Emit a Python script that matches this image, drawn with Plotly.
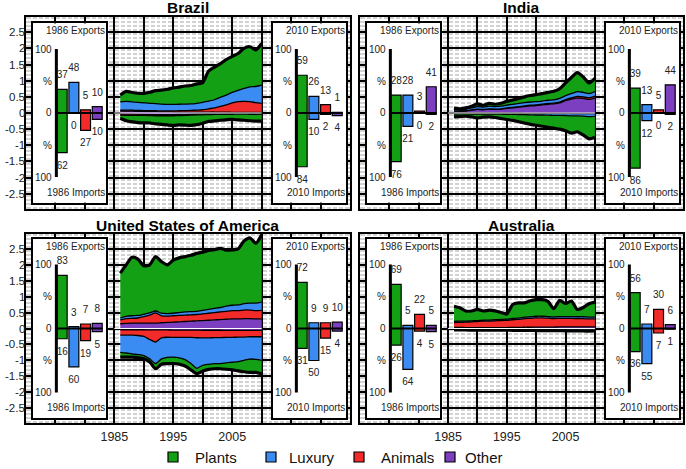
import plotly.graph_objects as go

years = list(range(1986, 2011))
categories = ["Plants", "Luxury", "Animals", "Other"]
cat_colors = ["#14a014", "#3b8cf2", "#f22a2a", "#7b3fbf"]
panel_titles = ["Brazil", "India", "United States of America", "Australia"]
bar_positions = [1, 2, 3, 4]

# ---- stream data (exports above zero, imports below zero) ----
bra_exp_plants = [.21,.31,.29,.28,.29,.34,.40,.43,.47,.51,.53,.56,.57,.60,.61,.93,1.01,1.04,1.10,1.11,1.14,1.24,1.24,1.13,1.29]
bra_exp_luxury = [.26,.27,.26,.25,.24,.23,.22,.21,.20,.20,.20,.20,.20,.21,.23,.24,.25,.28,.30,.33,.35,.40,.46,.50,.56]
bra_exp_animals = [.03,.03,.03,.03,.03,.03,.03,.03,.03,.035,.04,.045,.05,.06,.07,.10,.13,.18,.23,.29,.33,.34,.33,.30,.28]
bra_exp_other = [.055,.06,.055,.05,.045,.04,.04,.035,.035,.03,.03,.03,.03,.03,.03,.03,.03,.025,.025,.02,.02,.02,.02,.02,.02]
bra_imp_plants = [.10,.17,.20,.22,.23,.23,.25,.26,.28,.30,.29,.30,.32,.30,.26,.21,.20,.18,.17,.16,.18,.19,.20,.21,.21]
bra_imp_luxury = [0,.005,.01,.01,.01,.015,.015,.02,.02,.02,.02,.02,.02,.02,.02,.02,.02,.02,.02,.02,.02,.02,.025,.025,.025]
bra_imp_animals = [.045,.04,.035,.03,.025,.02,.02,.02,.02,.015,.015,.015,.01,.01,.01,.01,.01,.01,.01,.01,.005,.005,.005,.005,.005]
bra_imp_other = [.02,.025,.03,.035,.04,.045,.05,.05,.05,.05,.045,.04,.035,.03,.025,.02,.015,.015,.01,.01,.01,.01,.01,.01,.01]

ind_exp_plants = [.045,.04,.045,.055,.08,.06,.09,.075,.09,.115,.135,.155,.18,.20,.22,.23,.245,.265,.30,.395,.50,.59,.48,.33,.41]
ind_exp_luxury = [.04,.035,.045,.06,.08,.07,.08,.075,.08,.09,.09,.10,.10,.10,.10,.10,.10,.10,.11,.12,.13,.15,.14,.13,.14]
ind_exp_animals = [.005,.005,.005,.01,.01,.01,.01,.01,.01,.015,.015,.015,.02,.02,.02,.02,.025,.025,.03,.035,.04,.05,.05,.05,.05]
ind_exp_other = [.06,.05,.065,.085,.11,.10,.12,.11,.12,.14,.16,.18,.20,.22,.23,.25,.27,.28,.31,.38,.43,.46,.45,.42,.47]
ind_imp_plants = [.088,.08,.072,.089,.113,.097,.089,.106,.133,.158,.188,.223,.258,.293,.318,.348,.373,.398,.428,.473,.533,.493,.583,.688,.643]
ind_imp_luxury = [.025,.023,.021,.024,.03,.026,.024,.027,.03,.035,.035,.04,.04,.045,.05,.05,.055,.06,.06,.065,.07,.07,.08,.095,.09]
ind_imp_animals = [.002,.002,.002,.002,.002,.002,.002,.002,.002,.002,.002,.002,.002,.002,.002,.002,.002,.002,.002,.002,.002,.002,.002,.002,.002]
ind_imp_other = [.005,.005,.005,.005,.005,.005,.005,.005,.005,.005,.005,.005,.01,.01,.01,.01,.01,.01,.01,.01,.015,.015,.015,.015,.015]

usa_exp_plants = [1.41,1.62,1.84,1.77,1.52,1.51,1.71,1.62,1.53,1.67,1.72,1.74,1.77,1.82,1.83,1.85,1.85,1.86,1.76,1.74,1.76,1.97,2.05,1.88,2.12]
usa_exp_luxury = [.06,.07,.08,.08,.08,.07,.06,.08,.08,.08,.09,.10,.10,.10,.11,.12,.13,.14,.16,.17,.18,.20,.22,.24,.26]
usa_exp_animals = [.12,.15,.15,.16,.20,.25,.32,.22,.20,.20,.20,.20,.20,.20,.21,.22,.23,.24,.25,.26,.26,.27,.27,.26,.27]
usa_exp_other = [.15,.16,.17,.17,.17,.17,.17,.18,.19,.20,.21,.22,.23,.24,.25,.26,.27,.28,.29,.30,.30,.31,.31,.30,.30]
usa_imp_plants = [.15,.13,.10,.10,.10,.10,.16,.17,.20,.20,.20,.20,.20,.17,.18,.16,.16,.16,.20,.24,.29,.36,.42,.41,.42]
usa_imp_luxury = [.54,.56,.59,.60,.60,.61,.68,.66,.63,.62,.64,.70,.82,.96,.86,.83,.82,.82,.80,.78,.77,.73,.70,.71,.74]
usa_imp_animals = [.17,.17,.17,.18,.21,.30,.38,.25,.23,.23,.23,.23,.23,.24,.24,.24,.23,.23,.22,.22,.21,.21,.20,.20,.20]
usa_imp_other = [.04,.04,.04,.04,.04,.045,.045,.045,.045,.05,.05,.05,.05,.05,.055,.055,.055,.055,.06,.06,.06,.06,.06,.06,.06]

aus_exp_plants = [.48,.42,.32,.31,.35,.29,.31,.28,.22,.16,.44,.48,.45,.50,.52,.52,.48,.26,.51,.41,.49,.23,.29,.42,.47]
aus_exp_luxury = [.035,.035,.03,.03,.03,.03,.035,.035,.035,.035,.04,.04,.045,.05,.05,.05,.05,.05,.055,.055,.055,.06,.06,.06,.06]
aus_exp_animals = [.15,.16,.17,.18,.19,.20,.20,.21,.22,.23,.24,.25,.27,.28,.29,.29,.28,.27,.27,.27,.27,.26,.26,.25,.25]
aus_exp_other = [.035,.035,.03,.03,.03,.03,.03,.03,.03,.03,.035,.035,.04,.04,.045,.045,.045,.045,.05,.05,.05,.05,.05,.05,.05]
aus_imp_plants = [.012,.012,.012,.013,.013,.013,.014,.014,.015,.015,.016,.017,.018,.018,.019,.02,.02,.021,.022,.023,.024,.025,.026,.026,.027]
aus_imp_luxury = [.03,.03,.03,.031,.031,.032,.032,.033,.033,.034,.035,.036,.037,.038,.039,.04,.041,.042,.043,.044,.045,.046,.047,.048,.046]
aus_imp_animals = [.002,.002,.002,.002,.002,.002,.002,.002,.003,.003,.003,.003,.003,.003,.004,.004,.004,.004,.004,.005,.005,.005,.005,.005,.005]
aus_imp_other = [.003,.003,.003,.003,.003,.003,.003,.003,.002,.002,.002,.002,.002,.002,.002,.002,.002,.002,.001,.001,.001,.001,.001,.001,.001]

# ---- inset bar data (percent shares; order Plants, Luxury, Animals, Other) ----
bra_1986_exp = [37, 48, 5, 10]
bra_1986_imp = [62, 0, 27, 10]
bra_2010_exp = [59, 26, 13, 1]
bra_2010_imp = [84, 10, 2, 4]
ind_1986_exp = [28, 28, 3, 41]
ind_1986_imp = [76, 21, 0, 2]
ind_2010_exp = [39, 13, 5, 44]
ind_2010_imp = [86, 12, 0, 2]
usa_1986_exp = [83, 3, 7, 8]
usa_1986_imp = [16, 60, 19, 5]
usa_2010_exp = [72, 9, 9, 10]
usa_2010_imp = [31, 50, 15, 4]
aus_1986_exp = [69, 5, 22, 5]
aus_1986_imp = [26, 64, 4, 5]
aus_2010_exp = [56, 7, 30, 6]
aus_2010_imp = [36, 55, 7, 1]

x_tick_vals = list(range(1970, 2030, 5))
x_tick_text = ["", "", "", "1985", "", "1995", "", "2005", "", "", "", ""]
y_tick_vals = [-2.5, -2, -1.5, -1, -0.5, 0, 0.5, 1, 1.5, 2, 2.5]
y_tick_text = ["-2.5", "-2", "-1.5", "-1", "-0.5", "0", "0.5", "1", "1.5", "2", "2.5"]

streams = [
    ([bra_exp_plants, bra_exp_luxury, bra_exp_animals, bra_exp_other],
     [bra_imp_plants, bra_imp_luxury, bra_imp_animals, bra_imp_other]),
    ([ind_exp_plants, ind_exp_luxury, ind_exp_animals, ind_exp_other],
     [ind_imp_plants, ind_imp_luxury, ind_imp_animals, ind_imp_other]),
    ([usa_exp_plants, usa_exp_luxury, usa_exp_animals, usa_exp_other],
     [usa_imp_plants, usa_imp_luxury, usa_imp_animals, usa_imp_other]),
    ([aus_exp_plants, aus_exp_luxury, aus_exp_animals, aus_exp_other],
     [aus_imp_plants, aus_imp_luxury, aus_imp_animals, aus_imp_other]),
]
insets = [
    ((bra_1986_exp, bra_1986_imp), (bra_2010_exp, bra_2010_imp)),
    ((ind_1986_exp, ind_1986_imp), (ind_2010_exp, ind_2010_imp)),
    ((usa_1986_exp, usa_1986_imp), (usa_2010_exp, usa_2010_imp)),
    ((aus_1986_exp, aus_1986_imp), (aus_2010_exp, aus_2010_imp)),
]

# ---- layout geometry in pixels ----
W, H = 686, 469
panels_px = [(26, 350, 17, 209), (360, 683, 17, 209), (26, 350, 234, 423), (360, 683, 234, 423)]
legend_square_px = [173, 271, 359, 450]
legend_text_px = [193, 287, 379, 463]
LEGEND_Y = 457
YR = 2.97
INSET_R = 140
FONT = "Liberation Sans, Arial, sans-serif"


def xdom(a, b):
    return [a / W, b / W]


def ydom(top, bottom):
    return [1 - bottom / H, 1 - top / H]


def axkey(i, c):
    return f"{c}axis" if i == 1 else f"{c}axis{i}"


def axref(i, c):
    return c if i == 1 else f"{c}{i}"


fig = go.Figure()
layout_axes = {}
shapes = []
annotations = []

for k in range(4):
    x0, x1, top, bottom = panels_px[k]
    m = k + 1
    is_left = k in (0, 2)
    is_bottom = k in (2, 3)
    layout_axes[axkey(m, "x")] = dict(
        domain=xdom(x0, x1), range=[1970, 2025], anchor=axref(m, "y"),
        tickmode="array", tickvals=x_tick_vals, ticktext=x_tick_text,
        showticklabels=is_bottom, ticks="", tickfont=dict(size=12.5, color="#222"),
        ticklabelstandoff=1,
        showgrid=True, gridcolor="black", gridwidth=1.7,
        minor=dict(tick0=1970, dtick=1, showgrid=True, gridcolor="white", gridwidth=1.8, ticks=""),
        showline=True, mirror=True, linecolor="black", linewidth=2, zeroline=False,
    )
    layout_axes[axkey(m, "y")] = dict(
        domain=ydom(top, bottom), range=[-YR, YR], anchor=axref(m, "x"),
        tickmode="array", tickvals=y_tick_vals, ticktext=y_tick_text,
        showticklabels=False, ticks="",
        showgrid=True, gridcolor="black", gridwidth=1.7,
        minor=dict(tick0=0, dtick=0.125, showgrid=True, gridcolor="white", gridwidth=1.6, ticks=""),
        showline=True, mirror=True, linecolor="black", linewidth=2, zeroline=False,
    )
    if is_left:
        for tv, tt in zip(y_tick_vals, y_tick_text):
            annotations.append(dict(text=tt, xref="paper", yref=axref(m, "y"), x=(x0 - 0.5) / W, y=tv,
                                    xanchor="right", yanchor="middle", showarrow=False,
                                    borderpad=0, font=dict(size=11.5, color="#222", family=FONT)))
    shapes.append(dict(type="rect", xref=axref(m, "x"), yref=axref(m, "y"),
                       x0=1970, x1=2025, y0=-YR, y1=YR, fillcolor="#d2d2d2",
                       line=dict(width=0), layer="below"))
    annotations.append(dict(text=f"<b>{panel_titles[k]}</b>", xref="paper", yref="paper",
                            x=(x0 + x1) / 2 / W, y=1 - (top - 9) / H, xanchor="center", yanchor="middle",
                            showarrow=False, font=dict(size=15.5, color="black", family=FONT)))

    exp_layers, imp_layers = streams[k]
    xa, ya = axref(m, "x"), axref(m, "y")
    # stack from zero outward: Other, Animals, Luxury, Plants
    for j in (3, 2, 1, 0):
        fig.add_trace(go.Scatter(
            x=years, y=exp_layers[j], stackgroup=f"exp{k}", mode="lines",
            line=dict(color="black", width=3.2 if j == 0 else 1.3, shape="spline", smoothing=0.7),
            fillcolor=cat_colors[j], xaxis=xa, yaxis=ya, showlegend=False, hoverinfo="skip"))
    for j in (3, 2, 1, 0):
        fig.add_trace(go.Scatter(
            x=years, y=[-v for v in imp_layers[j]], stackgroup=f"imp{k}", mode="lines",
            line=dict(color="black", width=3.2 if j == 0 else 1.3, shape="spline", smoothing=0.7),
            fillcolor=cat_colors[j], xaxis=xa, yaxis=ya, showlegend=False, hoverinfo="skip"))
    fig.add_trace(go.Scatter(x=[years[0] - 1, years[-1]], y=[0, 0], mode="lines",
                             line=dict(color="white", width=1.2), xaxis=xa, yaxis=ya,
                             showlegend=False, hoverinfo="skip"))

    zero_px = (top + bottom) / 2
    half = INSET_R * 0.64
    inset_boxes = [(x0 + 7, x0 + 80, "1986"), (x1 - 77, x1 - 4, "2010")]
    for side in range(2):
        n = 5 + k + 4 * side
        bx0, bx1, label = inset_boxes[side]
        exp_vals, imp_vals = insets[k][side]
        layout_axes[axkey(n, "x")] = dict(
            domain=xdom(bx0, bx1), range=[-1.5, 4.75], anchor=axref(n, "y"),
            showgrid=False, zeroline=False, showticklabels=False, ticks="",
            showline=True, mirror=True, linecolor="black", linewidth=2)
        layout_axes[axkey(n, "y")] = dict(
            domain=ydom(zero_px - half, zero_px + half), range=[-INSET_R, INSET_R], anchor=axref(n, "x"),
            showgrid=False, zeroline=False, showticklabels=False, ticks="",
            showline=True, mirror=True, linecolor="black", linewidth=2)
        xa2, ya2 = axref(n, "x"), axref(n, "y")
        fig.add_trace(go.Bar(x=bar_positions, y=exp_vals, width=0.85, marker=dict(color=cat_colors, line=dict(color="black", width=1.2)),
                             xaxis=xa2, yaxis=ya2, showlegend=False, hoverinfo="skip"))
        fig.add_trace(go.Bar(x=bar_positions, y=[-v for v in imp_vals], width=0.85, marker=dict(color=cat_colors, line=dict(color="black", width=1.2)),
                             xaxis=xa2, yaxis=ya2, showlegend=False, hoverinfo="skip"))
        fig.add_trace(go.Scatter(x=[0.5, 0.5], y=[-100, 100], mode="lines", line=dict(color="black", width=3),
                                 xaxis=xa2, yaxis=ya2, showlegend=False, hoverinfo="skip"))
        fig.add_trace(go.Scatter(x=[0.5, bar_positions[-1] + 0.425], y=[0, 0], mode="lines", line=dict(color="black", width=2.2),
                                 xaxis=xa2, yaxis=ya2, showlegend=False, hoverinfo="skip"))
        fig.add_trace(go.Scatter(x=bar_positions, y=[v + 21 for v in exp_vals], mode="text",
                                 text=[str(v) for v in exp_vals], textfont=dict(size=10, color="#222", family=FONT),
                                 xaxis=xa2, yaxis=ya2, showlegend=False, hoverinfo="skip"))
        fig.add_trace(go.Scatter(x=bar_positions, y=[-v - 21 for v in imp_vals], mode="text",
                                 text=[str(v) for v in imp_vals], textfont=dict(size=10, color="#222", family=FONT),
                                 xaxis=xa2, yaxis=ya2, showlegend=False, hoverinfo="skip"))
        for yv, t in ((100, "100"), (50, "%"), (0, "0"), (-50, "%"), (-100, "100")):
            annotations.append(dict(text=t, xref=xa2, yref=ya2, x=0.5, y=yv, xanchor="right", yanchor="middle",
                                    xshift=-2, showarrow=False, font=dict(size=10, color="#222", family=FONT)))
        annotations.append(dict(text=f"{label} Exports", xref=f"{xa2} domain", yref=f"{ya2} domain", x=1, y=1,
                                xanchor="right", yanchor="top", xshift=1, showarrow=False,
                                font=dict(size=10, color="#222", family=FONT)))
        annotations.append(dict(text=f"{label} Imports", xref=f"{xa2} domain", yref=f"{ya2} domain", x=1, y=0,
                                xanchor="right", yanchor="bottom", xshift=1, yshift=3, showarrow=False,
                                font=dict(size=10, color="#222", family=FONT)))

# ---- legend drawn manually (squares + labels) ----
for j, cat in enumerate(categories):
    cx = legend_square_px[j]
    shapes.append(dict(type="rect", xref="paper", yref="paper",
                       x0=(cx - 5) / W, x1=(cx + 5) / W,
                       y0=1 - (LEGEND_Y + 5) / H, y1=1 - (LEGEND_Y - 5) / H,
                       fillcolor=cat_colors[j], line=dict(color="black", width=1.2)))
    annotations.append(dict(text=cat, xref="paper", yref="paper", x=legend_text_px[j] / W,
                            y=1 - LEGEND_Y / H, xanchor="left", yanchor="middle", showarrow=False,
                            font=dict(size=15, color="#111", family=FONT)))

fig.update_layout(
    width=W, height=H, margin=dict(l=0, r=0, t=0, b=0, autoexpand=False),
    paper_bgcolor="white", plot_bgcolor="white",
    font=dict(family=FONT, color="#222"),
    barmode="overlay", shapes=shapes, annotations=annotations,
    showlegend=False,
    **layout_axes,
)

fig.write_html("out.html", config={"displayModeBar": False},
               post_script="document.body.style.margin='0';document.body.style.padding='0';document.body.style.overflow='hidden';")
